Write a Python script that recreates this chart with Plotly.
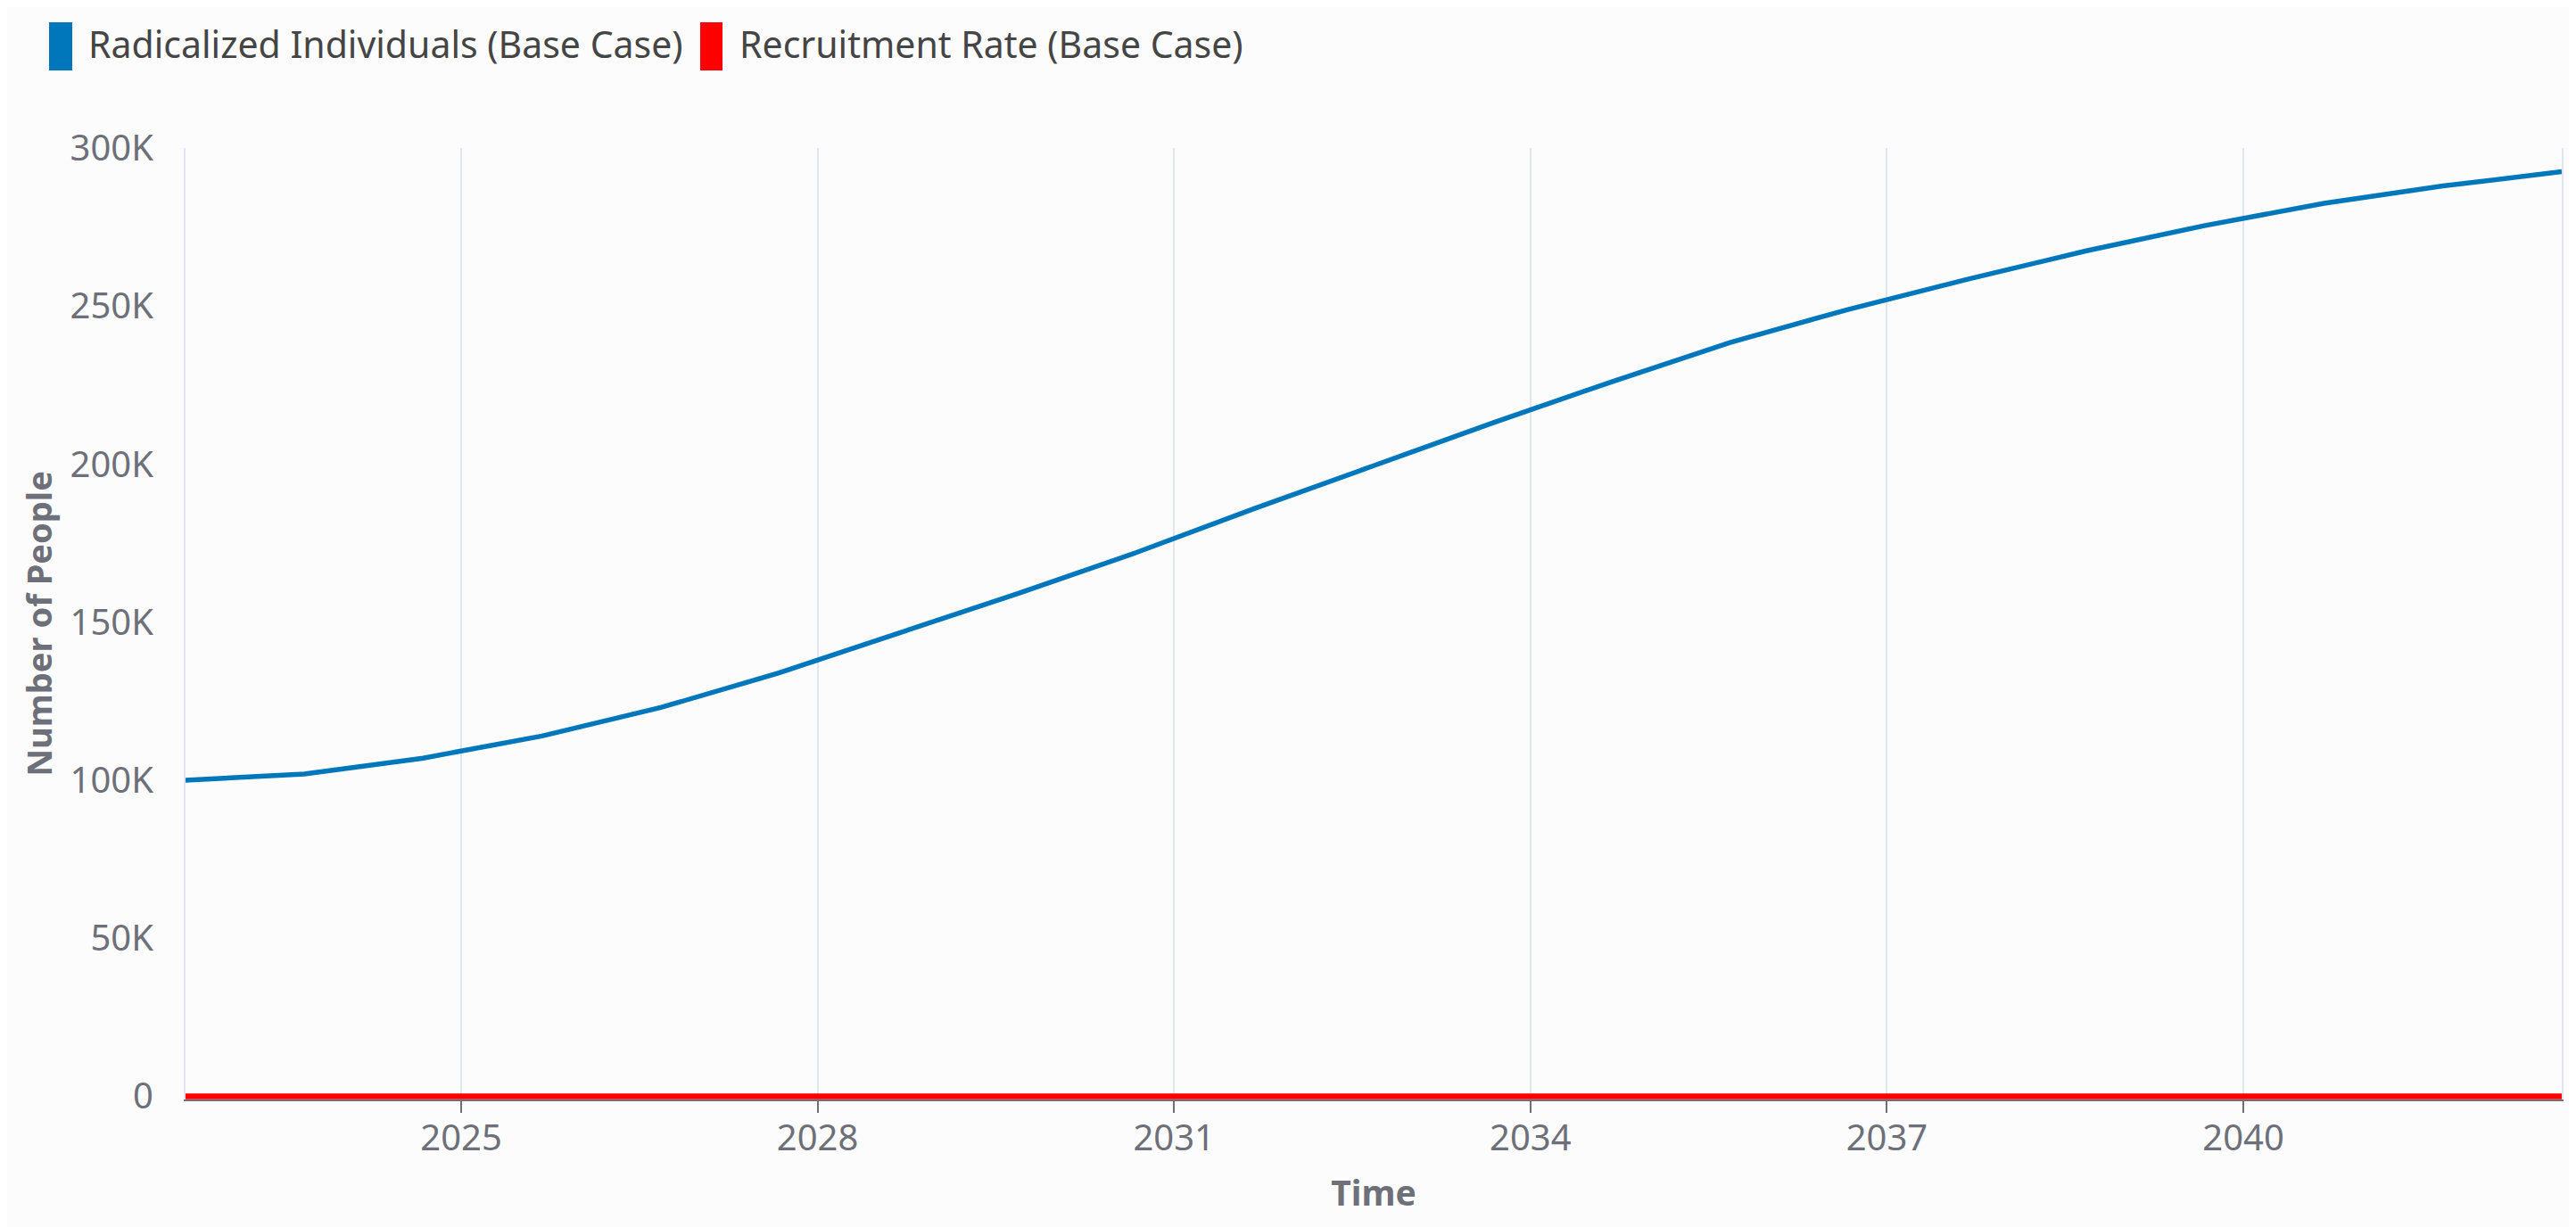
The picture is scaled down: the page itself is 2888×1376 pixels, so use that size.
import plotly.graph_objects as go

# ---- data ----
years = [2022.68, 2023.68, 2024.68, 2025.68, 2026.68, 2027.68, 2028.68,
         2029.68, 2030.68, 2031.68, 2032.68, 2033.68, 2034.68, 2035.68,
         2036.68, 2037.68, 2038.68, 2039.68, 2040.68, 2041.68, 2042.68]
radicalized = [100000, 102000, 107000, 114000, 123000, 134000, 146500,
               159000, 172000, 186000, 199500, 213000, 226000, 238500,
               249000, 258500, 267500, 275500, 282500, 288000, 292500]
recruitment = [0, 0, 0, 0, 0, 0, 0, 0, 0, 0, 0, 0, 0, 0, 0, 0, 0, 0, 0, 0, 0]

series_names = ["Radicalized Individuals (Base Case)", "Recruitment Rate (Base Case)"]
series_colors = ["#0077BB", "#FF0000"]

x_tick_vals = [2025, 2028, 2031, 2034, 2037, 2040]
x_tick_text = ["2025", "2028", "2031", "2034", "2037", "2040"]
y_tick_vals = [0, 50000, 100000, 150000, 200000, 250000, 300000]
y_tick_text = ["0", "50K", "100K", "150K", "200K", "250K", "300K"]

FONT = "Noto Sans"
AXIS_GRAY = "#6E7079"
GRID = "#E0E6F1"
BG = "#FCFCFD"

W, H = 2888, 1376
PL, PR, PT, PB = 200, 2864, 158, 1225   # plot area in pixels

fig = go.Figure()
fig.add_trace(go.Scatter(x=years, y=radicalized, mode="lines", name=series_names[0],
                         line=dict(color=series_colors[0], width=5.5), showlegend=False))
fig.add_trace(go.Scatter(x=years, y=recruitment, mode="lines", name=series_names[1],
                         line=dict(color=series_colors[1], width=6.5), showlegend=False))

# legend drawn as vertical colour bars + text (matches reference style)
legend_items = [
    (47, 73, 89),
    (777, 802, 819),
]
def px(x):
    return (x - PL) / (PR - PL)
def py(y):
    return (PB - y) / (PB - PT)

shapes = []
annotations = []
for (x0, x1, tx), name, col in zip(legend_items, series_names, series_colors):
    shapes.append(dict(type="rect", xref="paper", yref="paper",
                       x0=px(x0), x1=px(x1), y0=py(71), y1=py(17),
                       fillcolor=col, line=dict(width=0), layer="above"))
    annotations.append(dict(xref="paper", yref="paper",
                            x=px(tx), y=py(41),
                            xanchor="left", yanchor="middle", showarrow=False,
                            text=name, font=dict(family=FONT, size=41, color="#454545")))

fig.update_layout(
    width=W, height=H,
    margin=dict(l=PL, r=W - PR, t=PT, b=H - PB),
    paper_bgcolor=BG, plot_bgcolor=BG,
    font=dict(family=FONT, size=40, color=AXIS_GRAY),
    showlegend=False,
    shapes=shapes,
    annotations=annotations,
    xaxis=dict(
        range=[2022.68, 2042.68],
        tickvals=x_tick_vals, ticktext=x_tick_text,
        showgrid=True, gridcolor=GRID, gridwidth=2,
        ticks="outside", ticklen=13, tickwidth=2, tickcolor=AXIS_GRAY,
        showline=True, linecolor=AXIS_GRAY, linewidth=2,
        zeroline=False,
        ticklabelstandoff=-6,
        tickfont=dict(family=FONT, size=40, color=AXIS_GRAY),
        title=dict(text="<b>Time</b>", standoff=24,
                   font=dict(family=FONT, size=39, color=AXIS_GRAY)),
    ),
    yaxis=dict(
        range=[-990, 300000],
        tickvals=y_tick_vals, ticktext=y_tick_text,
        showgrid=False, zeroline=False,
        showline=True, mirror=True, linecolor=GRID, linewidth=2,
        ticks="", ticklabelstandoff=26,
        tickfont=dict(family=FONT, size=40, color=AXIS_GRAY),
        title=dict(text="<b>Number of People</b>", standoff=8,
                   font=dict(family=FONT, size=38, color=AXIS_GRAY)),
    ),
)

fig.write_html("out.html")
